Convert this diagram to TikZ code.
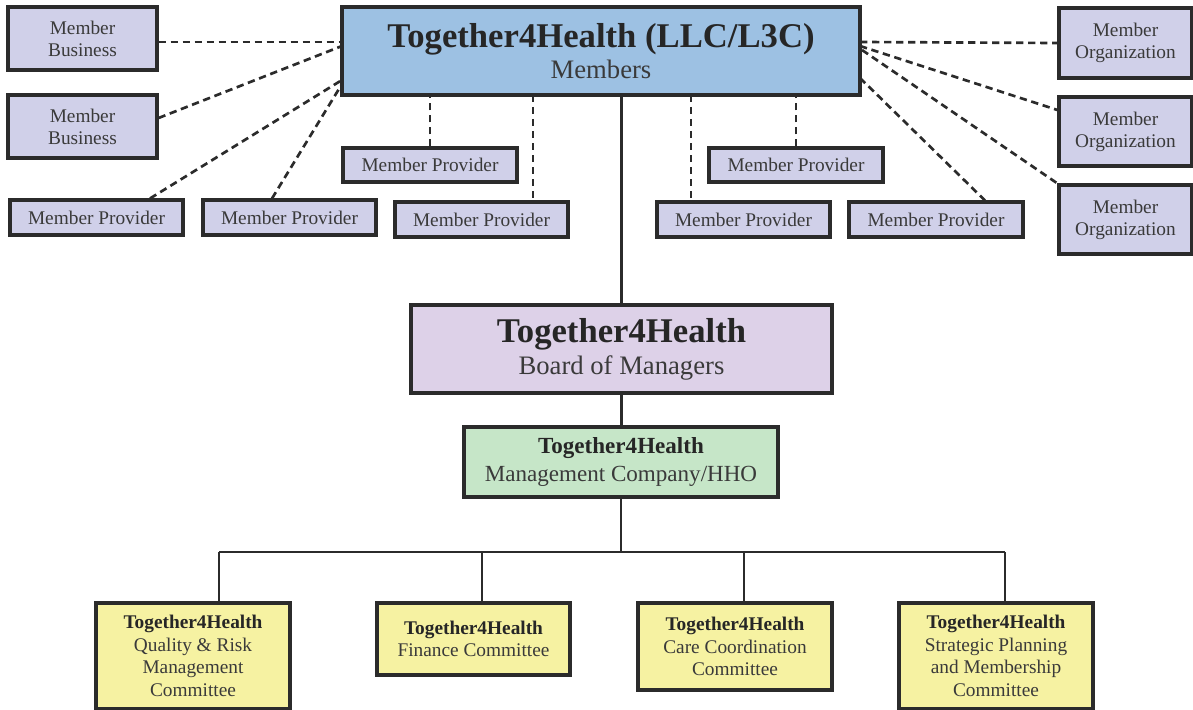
\documentclass[tikz,border=0pt]{standalone}
\usepackage{fontspec}
\setmainfont{Liberation Serif}
\usetikzlibrary{calc}
\definecolor{edge}{HTML}{2B2B2B}
\definecolor{txt}{HTML}{3A3A3A}
\definecolor{topfill}{HTML}{9DC1E3}
\definecolor{memfill}{HTML}{D0D0E9}
\definecolor{boardfill}{HTML}{DDD1E8}
\definecolor{mgfill}{HTML}{C6E6C8}
\definecolor{comfill}{HTML}{F6F2A2}
\tikzset{
  wh/.style 2 args={minimum width=#1*0.75pt, minimum height=#2*0.75pt},
  basebox/.style={draw=edge, inner sep=0pt, align=center, text=txt},
  membox/.style={basebox, fill=memfill, line width=2.3pt, font=\fontsize{14.5}{16.5}\selectfont},
  topbox/.style={basebox, fill=topfill, line width=3.3pt},
  boardbox/.style={basebox, fill=boardfill, line width=3.3pt},
  mgbox/.style={basebox, fill=mgfill, line width=2.3pt, font=\fontsize{17.3}{21}\selectfont},
  combox/.style={basebox, fill=comfill, line width=2.3pt, font=\fontsize{14.5}{17}\selectfont},
  dsh/.style={draw=edge, line width=2pt, dash pattern=on 5.5pt off 3.5pt},
  sol/.style={draw=edge, line width=1.8pt},
}
\begin{document}
\begin{tikzpicture}[x=0.75pt,y=-0.75pt]
\useasboundingbox (0,0) rectangle (1193,710);
% top
\node[topbox, wh={518}{88}] (top) at (601,51)
  {{\fontsize{26}{30}\selectfont\bfseries\color{black!85}Together4Health (LLC/L3C)}\\[3pt]
   {\fontsize{20}{22}\selectfont Members}};
% member businesses
\node[membox, wh={149}{63}] (biz1) at (82.5,38.5) {Member\\Business};
\node[membox, wh={149}{63}] (biz2) at (82.5,126.5) {Member\\Business};
% member providers
\node[membox, wh={173}{35}] (pl1) at (96.5,217.5) {Member Provider};
\node[membox, wh={173}{35}] (pl2) at (289.5,217.5) {Member Provider};
\node[membox, wh={173}{35}] (pl3) at (481.5,219.5) {Member Provider};
\node[membox, wh={174}{34}] (pu1) at (430,165) {Member Provider};
\node[membox, wh={174}{34}] (pu2) at (796,165) {Member Provider};
\node[membox, wh={173}{35}] (pr1) at (743.5,219.5) {Member Provider};
\node[membox, wh={174}{35}] (pr2) at (936,219.5) {Member Provider};
% member organizations
\node[membox, wh={133}{70}] (org1) at (1125.5,43) {Member\\Organization};
\node[membox, wh={133}{69}] (org2) at (1125.5,131.5) {Member\\Organization};
\node[membox, wh={133}{69}] (org3) at (1125.5,219.5) {Member\\Organization};
% board
\node[boardbox, wh={421}{88}] (board) at (621.5,349)
  {{\fontsize{26}{30}\selectfont\bfseries\color{black!85}Together4Health}\\[3pt]
   {\fontsize{20}{22}\selectfont Board of Managers}};
% management
\node[mgbox, wh={314}{70}] (mg) at (621,462)
  {\textbf{\color{black!85}Together4Health}\\Management Company/HHO};
% committees
\node[combox, wh={194}{106}] (q) at (193,656)
  {\textbf{\color{black!85}Together4Health}\\Quality \& Risk\\Management\\Committee};
\node[combox, wh={193}{72}] (f) at (473.5,639)
  {\textbf{\color{black!85}Together4Health}\\Finance Committee};
\node[combox, wh={194}{87}] (c) at (735,646.5)
  {\textbf{\color{black!85}Together4Health}\\Care Coordination\\Committee};
\node[combox, wh={194}{106}] (s) at (996,656)
  {\textbf{\color{black!85}Together4Health}\\Strategic Planning\\and Membership\\Committee};

% coordinates on the top box
\coordinate (tl1) at (342,42);
\coordinate (tl2) at (342,46);
\coordinate (tl3) at (342,80);
\coordinate (tl4) at (342,84);
\coordinate (tr1) at (860,42);
\coordinate (tr2) at (860,46);
\coordinate (tr3) at (862,50);
\coordinate (tr4) at (860,78);
\coordinate (tb1) at (533,95);
\coordinate (tb2) at (691,95);

% dashed connectors
\draw[dsh] ($(biz1.east)+(0,3.5)$) -- (tl1);
\draw[dsh] ($(biz2.east)+(0,-8.5)$) -- (tl2);
\draw[dsh] ($(pl1.north)+(53.5,0)$) -- (tl3);
\draw[dsh] ($(pl2.north)+(-17.5,0)$) -- (tl4);
\draw[dsh] (pu1.north) -- (pu1.north |- top.south);
\draw[dsh] (tb1) -- (tb1 |- pl3.north);
\draw[dsh] (tb2) -- (tb2 |- pr1.north);
\draw[dsh] (pu2.north) -- (pu2.north |- top.south);
\draw[dsh] (tr1) -- (org1.west);
\draw[dsh] (tr2) -- ($(org2.west)+(0,-21.5)$);
\draw[dsh] (tr3) -- (org3.north west);
\draw[dsh] (tr4) -- ($(pr2.north)+(49,0)$);

% solid hierarchy
\draw[sol] (board.north |- top.south) -- (board.north);
\draw[sol] (board.south) -- (board.south |- mg.north);
\coordinate (bus) at (621,552);
\coordinate (qd) at (219,552);
\coordinate (fd) at (482,552);
\coordinate (cd) at (744,552);
\coordinate (sd) at (1005,552);
\draw[sol] (mg.south) -- (bus);
\draw[sol] (qd) -- (sd);
\draw[sol] (qd) -- (qd |- q.north);
\draw[sol] (fd) -- (fd |- f.north);
\draw[sol] (cd) -- (cd |- c.north);
\draw[sol] (sd) -- (sd |- s.north);
\end{tikzpicture}
\end{document}
